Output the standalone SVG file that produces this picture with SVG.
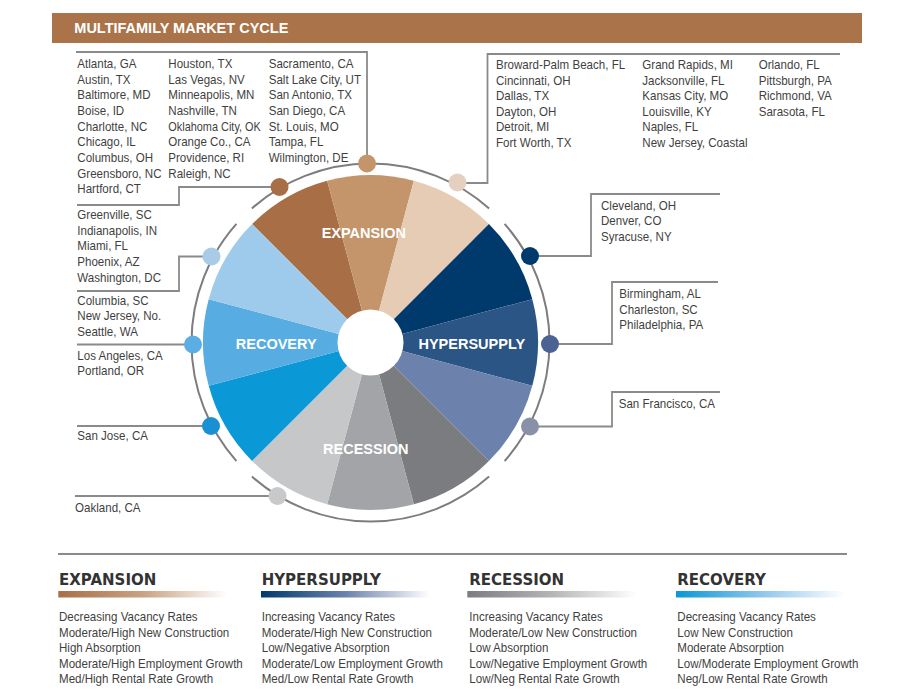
<svg xmlns="http://www.w3.org/2000/svg" width="922" height="698" viewBox="0 0 922 698">
<defs>
<style>
.t{font-family:"Liberation Sans",Arial,sans-serif;font-size:13px;fill:#3f3f41}
.wl{font-family:"Liberation Sans",Arial,sans-serif;font-size:14.5px;font-weight:bold;fill:#ffffff;text-anchor:middle}
.h{font-family:"DejaVu Sans","Liberation Sans",sans-serif;font-size:15px;font-weight:bold;fill:#333333}
.ln{fill:none;stroke:#8a8a8a;stroke-width:1.8}
.ring{fill:none;stroke:#7d7d7f;stroke-width:2}
</style>
<linearGradient id="gExp" x1="0" y1="0" x2="1" y2="0"><stop offset="0" stop-color="#a86f47"/><stop offset="0.5" stop-color="#c9a283"/><stop offset="1" stop-color="#ffffff"/></linearGradient>
<linearGradient id="gHyp" x1="0" y1="0" x2="1" y2="0"><stop offset="0" stop-color="#003a6c"/><stop offset="0.5" stop-color="#6c82ac"/><stop offset="1" stop-color="#ffffff"/></linearGradient>
<linearGradient id="gRec" x1="0" y1="0" x2="1" y2="0"><stop offset="0" stop-color="#7b7c7f"/><stop offset="0.5" stop-color="#b4b5b7"/><stop offset="1" stop-color="#ffffff"/></linearGradient>
<linearGradient id="gRcv" x1="0" y1="0" x2="1" y2="0"><stop offset="0" stop-color="#0a98d6"/><stop offset="0.5" stop-color="#8ec5ec"/><stop offset="1" stop-color="#ffffff"/></linearGradient>
</defs>
<rect width="922" height="698" fill="#ffffff"/>

<g id="header">
<rect x="52" y="13" width="810" height="30" fill="#aa7349"/>
<text x="74.3" y="33.3" style="font-family:'Liberation Sans',Arial,sans-serif;font-size:14.5px;font-weight:bold;fill:#ffffff">MULTIFAMILY MARKET CYCLE</text>
</g>

<g id="connectors">
<path class="ln" d="M76 52 H367 V163"/>
<path class="ln" d="M279.5 187 H179 V205 H77"/>
<path class="ln" d="M211.5 256.5 H179 V291 H77"/>
<path class="ln" d="M193 344.5 H77"/>
<path class="ln" d="M211 426 H77"/>
<path class="ln" d="M277.5 496 H75"/>
<path class="ln" d="M457.5 183 H487.5 V54 H840"/>
<path class="ln" d="M530 256 H591 V194 H720"/>
<path class="ln" d="M550 344 H612 V282 H718"/>
<path class="ln" d="M530 426.5 H612 V392 H720"/>
</g>

<g id="wheel">
<path d="M370.5 342.5 L252.06 224.06 A167.5 167.5 0 0 1 327.15 180.70 Z" fill="#a86f47"/>
<path d="M370.5 342.5 L327.15 180.70 A167.5 167.5 0 0 1 413.85 180.70 Z" fill="#c4946b"/>
<path d="M370.5 342.5 L413.85 180.70 A167.5 167.5 0 0 1 488.94 224.06 Z" fill="#e6cbb5"/>
<path d="M370.5 342.5 L488.94 224.06 A167.5 167.5 0 0 1 532.30 299.15 Z" fill="#003a6c"/>
<path d="M370.5 342.5 L532.30 299.15 A167.5 167.5 0 0 1 532.30 385.85 Z" fill="#2b5584"/>
<path d="M370.5 342.5 L532.30 385.85 A167.5 167.5 0 0 1 488.94 460.94 Z" fill="#6c82ac"/>
<path d="M370.5 342.5 L488.94 460.94 A167.5 167.5 0 0 1 413.85 504.30 Z" fill="#7b7c7f"/>
<path d="M370.5 342.5 L413.85 504.30 A167.5 167.5 0 0 1 327.15 504.30 Z" fill="#a3a4a7"/>
<path d="M370.5 342.5 L327.15 504.30 A167.5 167.5 0 0 1 252.06 460.94 Z" fill="#c6c7c9"/>
<path d="M370.5 342.5 L252.06 460.94 A167.5 167.5 0 0 1 208.70 385.85 Z" fill="#0a98d6"/>
<path d="M370.5 342.5 L208.70 385.85 A167.5 167.5 0 0 1 208.70 299.15 Z" fill="#57ace2"/>
<path d="M370.5 342.5 L208.70 299.15 A167.5 167.5 0 0 1 252.06 224.06 Z" fill="#9ecaeb"/>
<circle cx="370.5" cy="342.5" r="33" fill="#ffffff"/>
<path class="ring" d="M251.89 208.43 A179 179 0 0 1 489.11 208.43"/>
<path class="ring" d="M504.57 223.89 A179 179 0 0 1 504.57 461.11"/>
<path class="ring" d="M489.11 476.57 A179 179 0 0 1 251.89 476.57"/>
<path class="ring" d="M236.43 461.11 A179 179 0 0 1 236.43 223.89"/>
<text class="wl" x="363.8" y="238.3">EXPANSION</text>
<text class="wl" x="471.8" y="349">HYPERSUPPLY</text>
<text class="wl" x="276.2" y="349">RECOVERY</text>
<text class="wl" x="365.8" y="454">RECESSION</text>
</g>

<g id="dots">
<circle cx="279.5" cy="187" r="9" fill="#a86f47"/>
<circle cx="367" cy="163.5" r="9" fill="#c4946b"/>
<circle cx="457.5" cy="182.5" r="9" fill="#e5cfbf"/>
<circle cx="530" cy="256" r="9" fill="#003a6c"/>
<circle cx="550" cy="344" r="9" fill="#4a6394"/>
<circle cx="530" cy="426.5" r="9" fill="#8891a8"/>
<circle cx="277.5" cy="496" r="9" fill="#c8c9cb"/>
<circle cx="211" cy="426" r="9" fill="#1a90d2"/>
<circle cx="193" cy="344.5" r="9" fill="#5aaee3"/>
<circle cx="211.5" cy="256.5" r="9" fill="#a8cce8"/>
</g>

<g id="grp-expansion-top">
<g transform="translate(77.3,0) scale(0.89,1)"><text class="t" y="68"><tspan x="0">Atlanta, GA</tspan><tspan x="0" dy="15.65">Austin, TX</tspan><tspan x="0" dy="15.65">Baltimore, MD</tspan><tspan x="0" dy="15.65">Boise, ID</tspan><tspan x="0" dy="15.65">Charlotte, NC</tspan><tspan x="0" dy="15.65">Chicago, IL</tspan><tspan x="0" dy="15.65">Columbus, OH</tspan><tspan x="0" dy="15.65">Greensboro, NC</tspan><tspan x="0" dy="15.65">Hartford, CT</tspan></text></g>
<g transform="translate(168.3,0) scale(0.89,1)"><text class="t" y="68"><tspan x="0">Houston, TX</tspan><tspan x="0" dy="15.65">Las Vegas, NV</tspan><tspan x="0" dy="15.65">Minneapolis, MN</tspan><tspan x="0" dy="15.65">Nashville, TN</tspan></text><text class="t" x="0" y="130.6" textLength="104" lengthAdjust="spacingAndGlyphs">Oklahoma City, OK</text><text class="t" y="146.25"><tspan x="0">Orange Co., CA</tspan><tspan x="0" dy="15.65">Providence, RI</tspan><tspan x="0" dy="15.65">Raleigh, NC</tspan></text></g>
<g transform="translate(268.7,0) scale(0.89,1)"><text class="t" y="68"><tspan x="0">Sacramento, CA</tspan><tspan x="0" dy="15.65">Salt Lake City, UT</tspan><tspan x="0" dy="15.65">San Antonio, TX</tspan><tspan x="0" dy="15.65">San Diego, CA</tspan><tspan x="0" dy="15.65">St. Louis, MO</tspan><tspan x="0" dy="15.65">Tampa, FL</tspan><tspan x="0" dy="15.65">Wilmington, DE</tspan></text></g>
</g>

<g id="grp-expansion-late">
<g transform="translate(496,0) scale(0.89,1)"><text class="t" y="69"><tspan x="0">Broward-Palm Beach, FL</tspan><tspan x="0" dy="15.6">Cincinnati, OH</tspan><tspan x="0" dy="15.6">Dallas, TX</tspan><tspan x="0" dy="15.6">Dayton, OH</tspan><tspan x="0" dy="15.6">Detroit, MI</tspan><tspan x="0" dy="15.6">Fort Worth, TX</tspan></text></g>
<g transform="translate(642.3,0) scale(0.89,1)"><text class="t" y="69"><tspan x="0">Grand Rapids, MI</tspan><tspan x="0" dy="15.6">Jacksonville, FL</tspan><tspan x="0" dy="15.6">Kansas City, MO</tspan><tspan x="0" dy="15.6">Louisville, KY</tspan><tspan x="0" dy="15.6">Naples, FL</tspan><tspan x="0" dy="15.6">New Jersey, Coastal</tspan></text></g>
<g transform="translate(758.7,0) scale(0.89,1)"><text class="t" y="69"><tspan x="0">Orlando, FL</tspan><tspan x="0" dy="15.6">Pittsburgh, PA</tspan><tspan x="0" dy="15.6">Richmond, VA</tspan><tspan x="0" dy="15.6">Sarasota, FL</tspan></text></g>
</g>

<g id="grp-hyper-early">
<g transform="translate(601,0) scale(0.89,1)"><text class="t" y="209.7"><tspan x="0">Cleveland, OH</tspan><tspan x="0" dy="15.65">Denver, CO</tspan><tspan x="0" dy="15.65">Syracuse, NY</tspan></text></g>
</g>
<g id="grp-hyper-mid">
<g transform="translate(619.3,0) scale(0.89,1)"><text class="t" y="298.4"><tspan x="0">Birmingham, AL</tspan><tspan x="0" dy="15.5">Charleston, SC</tspan><tspan x="0" dy="15.5">Philadelphia, PA</tspan></text></g>
</g>
<g id="grp-hyper-late">
<g transform="translate(618.7,0) scale(0.89,1)"><text class="t" y="408">San Francisco, CA</text></g>
</g>

<g id="grp-expansion-early">
<g transform="translate(77.3,0) scale(0.89,1)"><text class="t" y="219"><tspan x="0">Greenville, SC</tspan><tspan x="0" dy="15.7">Indianapolis, IN</tspan><tspan x="0" dy="15.7">Miami, FL</tspan><tspan x="0" dy="15.7">Phoenix, AZ</tspan><tspan x="0" dy="15.7">Washington, DC</tspan></text></g>
</g>
<g id="grp-recovery-late">
<g transform="translate(77.3,0) scale(0.89,1)"><text class="t" y="304.7"><tspan x="0">Columbia, SC</tspan><tspan x="0" dy="15.65">New Jersey, No.</tspan><tspan x="0" dy="15.65">Seattle, WA</tspan></text></g>
</g>
<g id="grp-recovery-mid">
<g transform="translate(77.3,0) scale(0.89,1)"><text class="t" y="359.7"><tspan x="0">Los Angeles, CA</tspan><tspan x="0" dy="15.6">Portland, OR</tspan></text></g>
</g>
<g id="grp-recovery-early">
<g transform="translate(77.3,0) scale(0.89,1)"><text class="t" y="439.7">San Jose, CA</text></g>
</g>
<g id="grp-recession-late">
<g transform="translate(75,0) scale(0.89,1)"><text class="t" y="512.4">Oakland, CA</text></g>
</g>

<g id="legend">
<line x1="58" y1="554" x2="847" y2="554" stroke="#8a8a8a" stroke-width="2"/>
<g id="leg-expansion">
<text class="h" x="59" y="585">EXPANSION</text>
<rect x="58.3" y="591" width="169" height="6.5" fill="url(#gExp)"/>
<g transform="translate(59,0) scale(0.89,1)"><text class="t" y="621.3"><tspan x="0">Decreasing Vacancy Rates</tspan><tspan x="0" dy="15.5">Moderate/High New Construction</tspan><tspan x="0" dy="15.5">High Absorption</tspan><tspan x="0" dy="15.5">Moderate/High Employment Growth</tspan><tspan x="0" dy="15.5">Med/High Rental Rate Growth</tspan></text></g>
</g>
<g id="leg-hypersupply">
<text class="h" x="261.7" y="585">HYPERSUPPLY</text>
<rect x="261" y="591" width="169" height="6.5" fill="url(#gHyp)"/>
<g transform="translate(261.7,0) scale(0.89,1)"><text class="t" y="621.3"><tspan x="0">Increasing Vacancy Rates</tspan><tspan x="0" dy="15.5">Moderate/High New Construction</tspan><tspan x="0" dy="15.5">Low/Negative Absorption</tspan><tspan x="0" dy="15.5">Moderate/Low Employment Growth</tspan><tspan x="0" dy="15.5">Med/Low Rental Rate Growth</tspan></text></g>
</g>
<g id="leg-recession">
<text class="h" x="469.3" y="585">RECESSION</text>
<rect x="467.3" y="591" width="169" height="6.5" fill="url(#gRec)"/>
<g transform="translate(469.3,0) scale(0.89,1)"><text class="t" y="621.3"><tspan x="0">Increasing Vacancy Rates</tspan><tspan x="0" dy="15.5">Moderate/Low New Construction</tspan><tspan x="0" dy="15.5">Low Absorption</tspan><tspan x="0" dy="15.5">Low/Negative Employment Growth</tspan><tspan x="0" dy="15.5">Low/Neg Rental Rate Growth</tspan></text></g>
</g>
<g id="leg-recovery">
<text class="h" x="677.3" y="585">RECOVERY</text>
<rect x="676" y="591" width="169" height="6.5" fill="url(#gRcv)"/>
<g transform="translate(677.3,0) scale(0.89,1)"><text class="t" y="621.3"><tspan x="0">Decreasing Vacancy Rates</tspan><tspan x="0" dy="15.5">Low New Construction</tspan><tspan x="0" dy="15.5">Moderate Absorption</tspan><tspan x="0" dy="15.5">Low/Moderate Employment Growth</tspan><tspan x="0" dy="15.5">Neg/Low Rental Rate Growth</tspan></text></g>
</g>
</g>
</svg>
